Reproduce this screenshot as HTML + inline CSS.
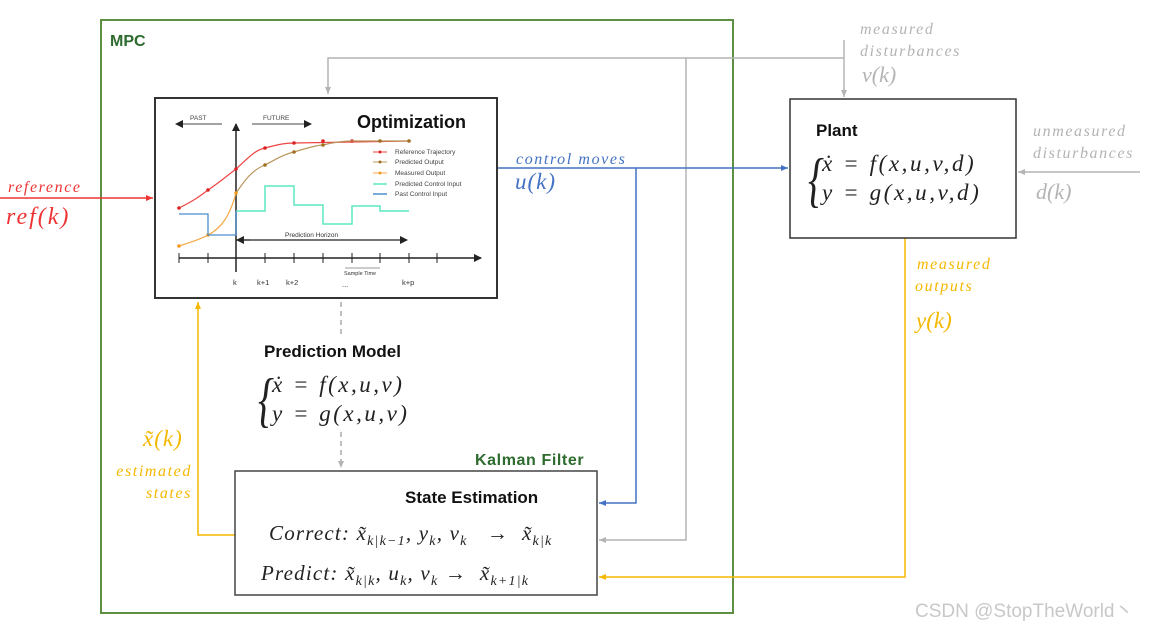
<!DOCTYPE html>
<html><head><meta charset="utf-8"><style>
html,body{margin:0;padding:0;background:#fff;}
svg{display:block;}
.sans{font-family:"Liberation Sans",sans-serif;}
.ser{font-family:"Liberation Serif","DejaVu Serif",serif;font-style:italic;}
.lab{letter-spacing:1.6px;}
</style></head><body>
<svg width="1161" height="630" viewBox="0 0 1161 630" xmlns="http://www.w3.org/2000/svg">
<defs>
<marker id="ag" markerWidth="8" markerHeight="8" refX="7" refY="4" orient="auto" markerUnits="userSpaceOnUse"><path d="M0,1 L7,4 L0,7 z" fill="#b4b4b4"/></marker>
<marker id="ab" markerWidth="8" markerHeight="8" refX="7" refY="4" orient="auto" markerUnits="userSpaceOnUse"><path d="M0,1 L7,4 L0,7 z" fill="#4472c4"/></marker>
<marker id="ar" markerWidth="8" markerHeight="8" refX="7" refY="4" orient="auto" markerUnits="userSpaceOnUse"><path d="M0,1 L7,4 L0,7 z" fill="#ee3333"/></marker>
<marker id="ao" markerWidth="8" markerHeight="8" refX="7" refY="4" orient="auto" markerUnits="userSpaceOnUse"><path d="M0,1 L7,4 L0,7 z" fill="#f5b800"/></marker>
<marker id="ak" markerWidth="8" markerHeight="8" refX="7" refY="4" orient="auto" markerUnits="userSpaceOnUse"><path d="M0,0 L8,4 L0,8 z" fill="#222"/></marker>
</defs>

<rect x="101" y="20" width="632" height="593" fill="none" stroke="#5e8f42" stroke-width="2"/>
<text x="110" y="46" class="sans" font-weight="bold" font-size="16" fill="#2e6b2e">MPC</text>

<polyline points="844,58 328,58 328,94" fill="none" stroke="#b4b4b4" stroke-width="1.5" marker-end="url(#ag)"/>
<line x1="844" y1="40" x2="844" y2="97" stroke="#b4b4b4" stroke-width="1.5" marker-end="url(#ag)"/>
<polyline points="686,58 686,540 599,540" fill="none" stroke="#b4b4b4" stroke-width="1.5" marker-end="url(#ag)"/>
<line x1="1140" y1="172" x2="1018" y2="172" stroke="#b4b4b4" stroke-width="1.5" marker-end="url(#ag)"/>
<line x1="341" y1="302" x2="341" y2="336" stroke="#aaa" stroke-width="1.5" stroke-dasharray="5,4"/>
<line x1="341" y1="432" x2="341" y2="468" stroke="#aaa" stroke-width="1.5" stroke-dasharray="5,4" marker-end="url(#ag)"/>

<line x1="497" y1="168" x2="788" y2="168" stroke="#4472c4" stroke-width="1.5" marker-end="url(#ab)"/>
<polyline points="636,168 636,503 599,503" fill="none" stroke="#4472c4" stroke-width="1.5" marker-end="url(#ab)"/>
<line x1="0" y1="198" x2="153" y2="198" stroke="#ee3333" stroke-width="1.5" marker-end="url(#ar)"/>
<polyline points="905,238 905,577 599,577" fill="none" stroke="#f5b800" stroke-width="1.5" marker-end="url(#ao)"/>
<polyline points="235,535 198,535 198,302" fill="none" stroke="#f5b800" stroke-width="1.5" marker-end="url(#ao)"/>

<rect x="155" y="98" width="342" height="200" fill="#fff" stroke="#333" stroke-width="2"/>
<text x="357" y="128" class="sans" font-weight="bold" font-size="18" fill="#111">Optimization</text>
<line x1="236" y1="272" x2="236" y2="124" stroke="#222" stroke-width="1.5" marker-end="url(#ak)"/>
<line x1="179" y1="258" x2="481" y2="258" stroke="#222" stroke-width="1.5" marker-end="url(#ak)"/>
<g stroke="#222" stroke-width="1">
<line x1="179" y1="253" x2="179" y2="263"/><line x1="208" y1="253" x2="208" y2="263"/><line x1="265" y1="253" x2="265" y2="263"/><line x1="294" y1="253" x2="294" y2="263"/><line x1="323" y1="253" x2="323" y2="263"/><line x1="352" y1="253" x2="352" y2="263"/><line x1="380" y1="253" x2="380" y2="263"/><line x1="409" y1="253" x2="409" y2="263"/><line x1="437" y1="253" x2="437" y2="263"/>
</g>
<line x1="222" y1="124" x2="176" y2="124" stroke="#444" stroke-width="1" marker-end="url(#ak)"/>
<line x1="252" y1="124" x2="311" y2="124" stroke="#444" stroke-width="1" marker-end="url(#ak)"/>
<text x="190" y="120" class="sans" font-size="6.5" fill="#444">PAST</text>
<text x="263" y="120" class="sans" font-size="6.5" fill="#444">FUTURE</text>
<path d="M179,208 C195,200 200,196 208,190 C220,182 228,175 236,169 C248,158 255,150 265,148 C280,144 286,143 294,143 L409,141" fill="none" stroke="#ee4444" stroke-width="1.2"/>
<g fill="#dd2222"><circle cx="179" cy="208" r="1.8"/><circle cx="208" cy="190" r="1.8"/><circle cx="236" cy="169" r="1.8"/><circle cx="265" cy="148" r="1.8"/><circle cx="294" cy="143" r="1.8"/><circle cx="323" cy="141" r="1.8"/><circle cx="352" cy="141" r="1.8"/></g>
<path d="M236,193 C245,180 252,170 265,165 C278,158 285,154 294,152 C310,147 318,145 323,145 C335,142 345,141 352,141 L409,141" fill="none" stroke="#b8955a" stroke-width="1.2"/>
<g fill="#a07020"><circle cx="265" cy="165" r="1.8"/><circle cx="294" cy="152" r="1.8"/><circle cx="323" cy="145" r="1.8"/><circle cx="380" cy="141" r="1.8"/><circle cx="409" cy="141" r="1.8"/></g>
<path d="M179,246 C195,241 203,238 208,235 C222,228 230,215 236,193" fill="none" stroke="#f5a742" stroke-width="1.2"/>
<g fill="#f59a20"><circle cx="179" cy="246" r="1.8"/><circle cx="208" cy="235" r="1.8"/><circle cx="236" cy="193" r="1.8"/></g>
<polyline points="236,211 265,211 265,186 294,186 294,205 323,205 323,224 352,224 352,206 380,206 380,211 409,211" fill="none" stroke="#5ee8c0" stroke-width="1.5"/>
<polyline points="179,214 208,214 208,235 236,235 236,211" fill="none" stroke="#4a90d0" stroke-width="1.3"/>
<line x1="236" y1="240" x2="407" y2="240" stroke="#222" stroke-width="1.2" marker-end="url(#ak)"/>
<line x1="250" y1="240" x2="237" y2="240" stroke="#222" stroke-width="1.2" marker-end="url(#ak)"/>
<text x="285" y="237" class="sans" font-size="6.5" fill="#333">Prediction Horizon</text>
<g class="sans" font-size="6.5" fill="#444">
<line x1="373" y1="152" x2="387" y2="152" stroke="#ee4444"/><circle cx="380" cy="152" r="1.5" fill="#dd2222"/><text x="395" y="154">Reference Trajectory</text>
<line x1="373" y1="162" x2="387" y2="162" stroke="#b8955a"/><circle cx="380" cy="162" r="1.5" fill="#a07020"/><text x="395" y="164">Predicted Output</text>
<line x1="373" y1="173" x2="387" y2="173" stroke="#f5a742"/><circle cx="380" cy="173" r="1.5" fill="#f59a20"/><text x="395" y="175">Measured Output</text>
<line x1="373" y1="184" x2="387" y2="184" stroke="#5ee8c0" stroke-width="1.5"/><text x="395" y="186">Predicted Control Input</text>
<line x1="373" y1="194" x2="387" y2="194" stroke="#4a90d0" stroke-width="1.5"/><text x="395" y="196">Past Control Input</text>
</g>
<g class="sans" font-size="7.5" fill="#333">
<text x="233" y="285">k</text><text x="257" y="285">k+1</text><text x="286" y="285">k+2</text><text x="342" y="287">...</text><text x="402" y="285">k+p</text>
<text x="344" y="275" font-size="5.5">Sample Time</text>
</g>
<line x1="345" y1="268" x2="380" y2="268" stroke="#333" stroke-width="0.6"/>

<text x="264" y="357" class="sans" font-weight="bold" font-size="17" fill="#111">Prediction Model</text>
<text x="0" y="0" class="ser" font-style="normal" font-size="40" fill="#222" transform="translate(258,420) scale(1,1.5)">{</text>
<text x="272" y="392" class="ser" font-size="23" fill="#222" letter-spacing="2.5">ẋ = f(x,u,v)</text>
<text x="272" y="421" class="ser" font-size="23" fill="#222" letter-spacing="2.5">y = g(x,u,v)</text>

<text x="475" y="465" class="sans" font-weight="bold" font-size="16" fill="#2e6b2e" letter-spacing="0.6">Kalman Filter</text>
<rect x="235" y="471" width="362" height="124" fill="#fff" stroke="#444" stroke-width="1.5"/>
<text x="405" y="503" class="sans" font-weight="bold" font-size="17" fill="#111">State Estimation</text>
<text x="269" y="540" class="ser" font-size="21" fill="#222" letter-spacing="1.2">Correct: x̃<tspan font-size="14" dy="5">k|k−1</tspan><tspan dy="-5">, y</tspan><tspan font-size="14" dy="5">k</tspan><tspan dy="-5">, v</tspan><tspan font-size="14" dy="5">k</tspan><tspan dy="-5"> &#160;&#160;→ &#160;x̃</tspan><tspan font-size="14" dy="5">k|k</tspan></text>
<text x="261" y="580" class="ser" font-size="21" fill="#222" letter-spacing="1.2">Predict: x̃<tspan font-size="14" dy="5">k|k</tspan><tspan dy="-5">, u</tspan><tspan font-size="14" dy="5">k</tspan><tspan dy="-5">, v</tspan><tspan font-size="14" dy="5">k</tspan><tspan dy="-5"> → &#160;x̃</tspan><tspan font-size="14" dy="5">k+1|k</tspan></text>

<rect x="790" y="99" width="226" height="139" fill="#fff" stroke="#333" stroke-width="1.5"/>
<text x="816" y="136" class="sans" font-weight="bold" font-size="17" fill="#111">Plant</text>
<text x="0" y="0" class="ser" font-style="normal" font-size="40" fill="#222" transform="translate(808,200) scale(1,1.5)">{</text>
<text x="822" y="171" class="ser" font-size="23" fill="#222" letter-spacing="2.6">ẋ = f(x,u,v,d)</text>
<text x="822" y="200" class="ser" font-size="23" fill="#222" letter-spacing="2.6">y = g(x,u,v,d)</text>

<text x="860" y="34" class="ser lab" font-size="16" fill="#b4b4b4">measured</text>
<text x="860" y="56" class="ser lab" font-size="16" fill="#b4b4b4">disturbances</text>
<text x="862" y="82" class="ser" font-style="normal" font-size="22" fill="#b4b4b4">v(<tspan font-style="italic">k</tspan>)</text>
<text x="1033" y="136" class="ser lab" font-size="16" fill="#b4b4b4">unmeasured</text>
<text x="1033" y="158" class="ser lab" font-size="16" fill="#b4b4b4">disturbances</text>
<text x="1036" y="199" class="ser" font-style="normal" font-size="22" fill="#b4b4b4">d(<tspan font-style="italic">k</tspan>)</text>
<text x="917" y="269" class="ser lab" font-size="16" fill="#f5b800">measured</text>
<text x="915" y="291" class="ser lab" font-size="16" fill="#f5b800">outputs</text>
<text x="916" y="328" class="ser" font-style="normal" font-size="23" fill="#f5b800">y(<tspan font-style="italic">k</tspan>)</text>
<text x="516" y="164" class="ser lab" font-size="16" fill="#4472c4">control moves</text>
<text x="515" y="189" class="ser" font-size="23" fill="#4472c4" letter-spacing="1">u(k)</text>
<text x="8" y="192" class="ser lab" font-size="16" fill="#ee3333">reference</text>
<text x="6" y="224" class="ser" font-size="24" fill="#ee3333" letter-spacing="2">ref(k)</text>
<text x="143" y="446" class="ser" font-size="23" fill="#f5b800" letter-spacing="1">x̃(k)</text>
<text x="192" y="476" text-anchor="end" class="ser lab" font-size="16" fill="#f5b800">estimated</text>
<text x="192" y="498" text-anchor="end" class="ser lab" font-size="16" fill="#f5b800">states</text>
<text x="915" y="617" font-family="'Liberation Sans','Noto Sans CJK SC',sans-serif" font-size="19" fill="#c8c8c8">CSDN @StopTheWorld丶</text>
</svg>
</body></html>
